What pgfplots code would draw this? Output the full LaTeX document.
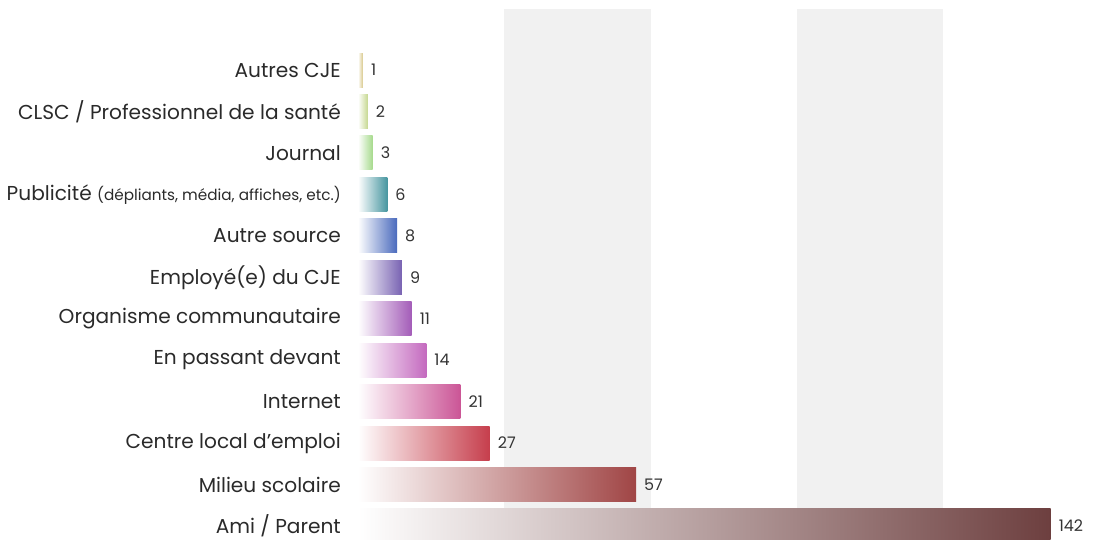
\documentclass[border=0pt]{standalone}
\usepackage{pgfplots}
\pgfplotsset{compat=1.18}
\usepackage{fontspec}
\setmainfont{Poppins}
\definecolor{cA}{HTML}{D8C88A}
\definecolor{cB}{HTML}{C6D890}
\definecolor{cC}{HTML}{A6DA8C}
\definecolor{cD}{HTML}{4796A0}
\definecolor{cE}{HTML}{4A6ABD}
\definecolor{cF}{HTML}{7862B2}
\definecolor{cG}{HTML}{A35CB8}
\definecolor{cH}{HTML}{C46ABF}
\definecolor{cI}{HTML}{CB5596}
\definecolor{cJ}{HTML}{C63E4C}
\definecolor{cK}{HTML}{A04545}
\definecolor{cL}{HTML}{6D3F3F}
\definecolor{band}{HTML}{F1F1F1}
\definecolor{labcol}{HTML}{2A2A2A}
\definecolor{valcol}{HTML}{333333}
\begin{document}
\begin{tikzpicture}
\begin{axis}[
  scale only axis, width=739bp, height=530bp,
  xmin=0, xmax=151.5, ymin=-0.34, ymax=12.45,
  axis line style={draw=none},
  xtick=\empty,
  ytick={0,1,2,3,4,5,6,7,8,9,10,11},
  yticklabels={Ami / Parent, Milieu scolaire, Centre local d’emploi, Internet, En passant devant, Organisme communautaire, Employé(e) du CJE, Autre source, {Publicité {\fontsize{15.3}{16}\selectfont (dépliants, média, affiches, etc.)}}, Journal, CLSC / Professionnel de la santé, Autres CJE},
  major tick length=0pt,
  y tick label style={font=\fontsize{20.2}{23}\selectfont, text=labcol, inner sep=0pt, anchor=east, xshift=-17bp},
  xbar, bar width=34bp, bar shift=0pt,
  nodes near coords={\pgfmathprintnumber[assume math mode=true]{\pgfplotspointmeta}},
  nodes near coords style={font=\fontsize{16}{18}\selectfont, text=valcol, anchor=west, inner sep=0pt, xshift=8bp},
]
\fill[band] (axis cs:30,-1) rectangle (axis cs:60,13);
\fill[band] (axis cs:90,-1) rectangle (axis cs:120,13);
\addplot[draw=none, left color=white, right color=cL] coordinates {(142,0)};
\addplot[draw=none, left color=white, right color=cK] coordinates {(57,1)};
\addplot[draw=none, left color=white, right color=cJ] coordinates {(27,2)};
\addplot[draw=none, left color=white, right color=cI] coordinates {(21,3)};
\addplot[draw=none, left color=white, right color=cH] coordinates {(14,4)};
\addplot[draw=none, left color=white, right color=cG] coordinates {(11,5)};
\addplot[draw=none, left color=white, right color=cF] coordinates {(9,6)};
\addplot[draw=none, left color=white, right color=cE] coordinates {(8,7)};
\addplot[draw=none, left color=white, right color=cD] coordinates {(6,8)};
\addplot[draw=none, left color=white, right color=cC] coordinates {(3,9)};
\addplot[draw=none, left color=white, right color=cB] coordinates {(2,10)};
\addplot[draw=none, left color=white, right color=cA] coordinates {(1,11)};
\end{axis}
\pgfresetboundingbox
\path (-358bp,0bp) rectangle (739bp,540bp);
\end{tikzpicture}
\end{document}
